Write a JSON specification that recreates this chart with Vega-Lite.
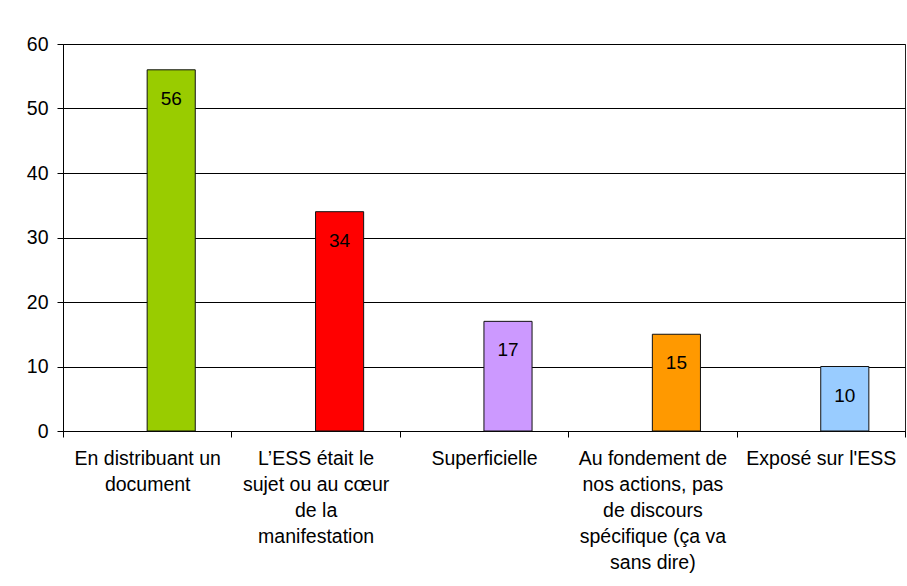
{
  "$schema": "https://vega.github.io/schema/vega-lite/v6.json",
  "width": 842,
  "height": 387,
  "autosize": {"type": "none"},
  "padding": {"left": 63, "top": 44, "right": 2, "bottom": 155},
  "background": "white",
  "config": {
    "font": "Liberation Sans",
    "view": {"stroke": "#222", "strokeWidth": 1}
  },
  "data": {
    "values": [
      {"cat": "En distribuant un|document", "value": 56},
      {"cat": "L’ESS était le|sujet ou au cœur|de la|manifestation", "value": 34},
      {"cat": "Superficielle", "value": 17},
      {"cat": "Au fondement de|nos actions, pas|de discours|spécifique (ça va|sans dire)", "value": 15},
      {"cat": "Exposé sur l'ESS", "value": 10}
    ]
  },
  "encoding": {
    "x": {
      "field": "cat",
      "type": "nominal",
      "sort": null,
      "scale": {"paddingInner": 0, "paddingOuter": 0},
      "axis": {
        "title": null,
        "labelAngle": 0,
        "labelExpr": "split(datum.label, '|')",
        "labelFontSize": 19.5,
        "labelLineHeight": 26,
        "labelColor": "black",
        "labelPadding": 12,
        "labelLimit": 300,
        "tickBand": "extent",
        "tickSize": 6,
        "tickColor": "black",
        "domainColor": "black",
        "grid": false
      }
    },
    "y": {
      "field": "value",
      "type": "quantitative",
      "scale": {"domain": [0, 60], "nice": false},
      "axis": {
        "title": null,
        "values": [0, 10, 20, 30, 40, 50, 60],
        "labelFontSize": 19.5,
        "labelColor": "black",
        "labelPadding": 9,
        "tickSize": 6,
        "tickColor": "black",
        "domainColor": "black",
        "gridColor": "black",
        "gridOpacity": 1,
        "grid": true
      }
    }
  },
  "layer": [
    {
      "mark": {"type": "bar", "width": {"band": 0.2857}, "xOffset": 24, "stroke": "#111", "strokeWidth": 1},
      "encoding": {
        "color": {
          "field": "cat",
          "type": "nominal",
          "sort": null,
          "legend": null,
          "scale": {"range": ["#99CC00", "#FF0000", "#CC99FF", "#FF9900", "#99CCFF"]}
        }
      }
    },
    {
      "mark": {"type": "text", "xOffset": 24, "dy": 29, "baseline": "middle", "fontSize": 19, "color": "black"},
      "encoding": {"text": {"field": "value", "type": "quantitative"}}
    }
  ]
}
